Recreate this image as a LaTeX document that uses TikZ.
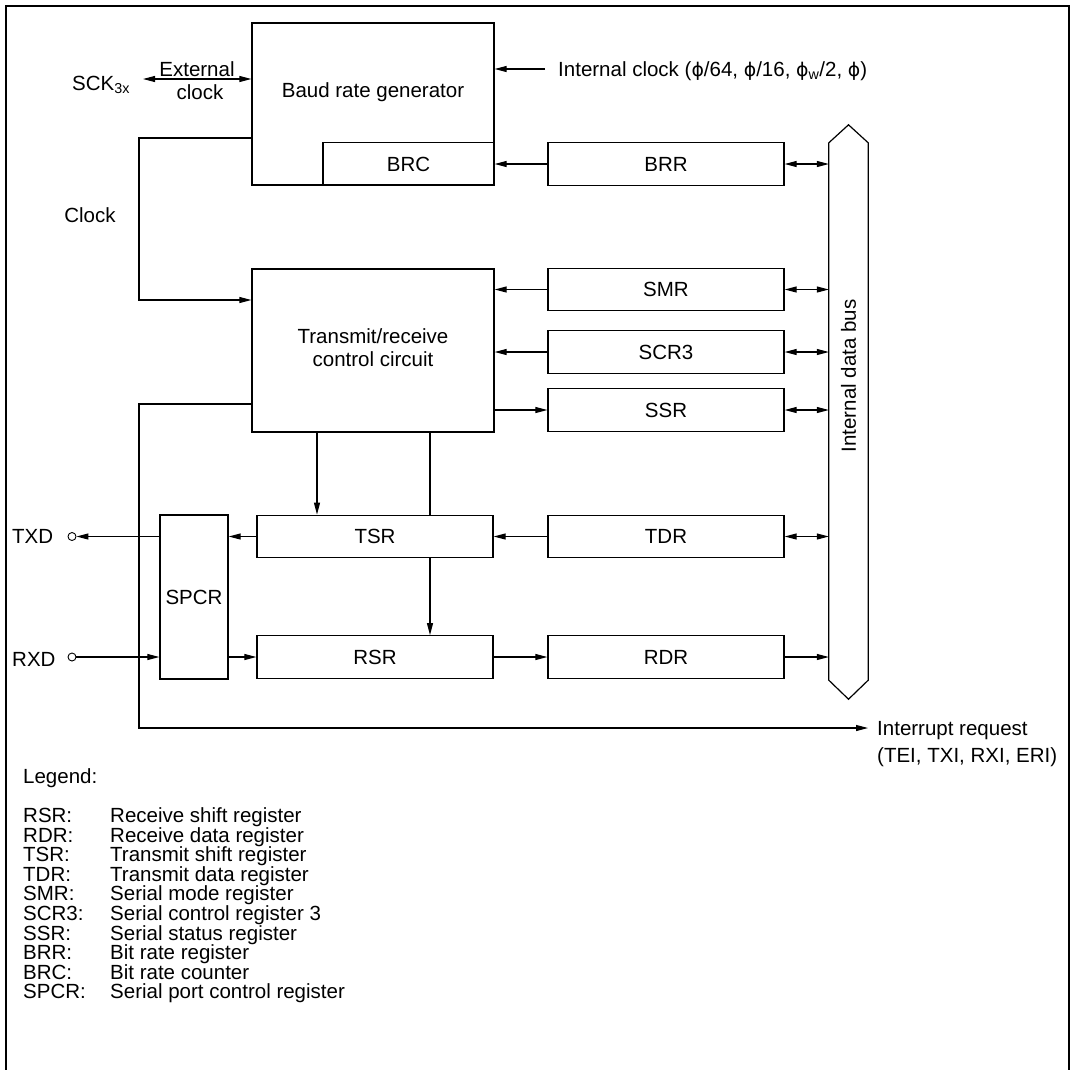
\documentclass[tikz,border=0pt]{standalone}
\usepackage{fontspec}
\setmainfont{Liberation Sans}
\newfontfamily\phifont[Scale=0.92]{DejaVu Sans}
\newcommand{\myphi}{{\phifont ϕ}}
\usetikzlibrary{arrows.meta}
\begin{document}
\begin{tikzpicture}[x=1pt,y=-1pt,font=\fontsize{20.5}{23}\selectfont,
  box/.style={draw,line width=1.3pt,inner sep=0pt,minimum height=42.5pt},
  reg/.style={box,minimum width=236pt},
  tip/.tip={Triangle[length=12pt,width=6pt]},
  conn/.style={line width=1.1pt,-tip},
  dconn/.style={line width=1.1pt,tip-tip},
  plain/.style={line width=1.1pt},
  txt/.style={inner sep=0pt},
  pin/.style={circle,draw,line width=0.9pt,minimum size=8pt,inner sep=0pt}]
\useasboundingbox (0,0) rectangle (1078,1069);
% frame
\draw[line width=2.4pt] (6,1080) -- (6,6) -- (1069,6) -- (1069,1080);

% blocks
\node[box,minimum width=242pt,minimum height=162pt] (baud) at (373,104) {};
\node[txt,anchor=base] (baudtxt) at (373,97) {Baud rate generator};
\node[box,minimum width=171pt] (brc) at (408.5,164) {BRC};
\node[reg] (brr) at (666,164) {BRR};
\node[box,minimum width=242pt,minimum height=163pt] (tr) at (373,350.5) {};
\node[txt,anchor=base] (trtxt1) at (373,343) {Transmit/receive};
\node[txt,anchor=base] (trtxt2) at (373,366) {control circuit};
\node[reg] (smr) at (666,289.5) {SMR};
\node[reg] (scr) at (666,352) {SCR3};
\node[reg] (ssr) at (666,410) {SSR};
\node[reg] (tdr) at (666,536.5) {TDR};
\node[reg] (rdr) at (666,657) {RDR};
\node[box,minimum width=236pt] (tsr) at (375,536.5) {TSR};
\node[box,minimum width=236pt] (rsr) at (375,657) {RSR};
\node[box,minimum width=68pt,minimum height=164pt] (spcr) at (194,597) {SPCR};

% bus
\node[inner sep=0pt,minimum width=39pt,minimum height=574pt] (bus) at (848.5,412) {};
\draw[line width=1.2pt] ([yshift=-18pt]bus.north west) -- (bus.north) -- ([yshift=-18pt]bus.north east)
  -- ([yshift=19pt]bus.south east) -- (bus.south) -- ([yshift=19pt]bus.south west) -- cycle;
\node[txt,rotate=90] (bustxt) at (848.5,376) {Internal data bus};

% pins and labels
\node[pin] (txdc) at (72,536.5) {};
\node[pin] (rxdc) at (72,657) {};
\node[txt,anchor=base west] (txd) at (12,543) {TXD};
\node[txt,anchor=base west] (rxd) at (12,666) {RXD};
\node[txt,anchor=base west] (sck) at (72,90) {SCK\textsubscript{3x}};
\node[txt,anchor=base] (ext1) at (197,76) {External};
\node[txt,anchor=base] (ext2) at (200,99) {clock};
\node[txt,anchor=base] (clk) at (90,222) {Clock};
\node[txt,anchor=base west] (intclk) at (558,76) {Internal clock (\myphi/64, \myphi/16, \myphi\textsubscript{w}/2, \myphi)};
\node[txt,anchor=base west] (irq1) at (877,735) {Interrupt request};
\node[txt,anchor=base west] (irq2) at (877,762) {(TEI, TXI, RXI, ERI)};

% coordinates
\coordinate (icstart) at (545,69);
\coordinate (sckend) at (143,79);
\coordinate (ck1) at (139,138);
\coordinate (ck2) at (139,300);
\coordinate (ir1) at (139,404);
\coordinate (ir2) at (139,728);
\coordinate (ir3) at (868,728);
\coordinate (a1) at (317,0);
\coordinate (a2) at (430,0);

% connectors
\draw[conn] (icstart) -- (icstart -| baud.east);
\draw[dconn] (sckend) -- (sckend -| baud.west);
\draw[conn] (ck1 -| baud.west) -- (ck1) -- (ck2) -- (ck2 -| tr.west);
\draw[conn] (ir1 -| tr.west) -- (ir1) -- (ir2) -- (ir3);
\draw[conn] (brr.west) -- (brc.east);
\draw[conn] (smr.west) -- (smr.west -| tr.east);
\draw[conn] (scr.west) -- (scr.west -| tr.east);
\draw[conn] (tr.east |- ssr) -- (ssr.west);
\draw[conn] (tr.south -| a1) -- (tsr.north -| a1);
\draw[plain] (tr.south -| a2) -- (tsr.north -| a2);
\draw[conn] (tsr.south -| a2) -- (rsr.north -| a2);
\draw[conn] (tdr.west) -- (tdr.west -| tsr.east);
\draw[conn] (tsr.west) -- (tsr.west -| spcr.east);
\draw[conn] (spcr.west |- txdc) -- (txdc.east);
\draw[conn] (rxdc.east) -- (rxdc -| spcr.west);
\draw[conn] (spcr.east |- rsr) -- (rsr.west);
\draw[conn] (rsr.east) -- (rdr.west);
\draw[conn] (rdr.east) -- (rdr.east -| bus.west);
\foreach \r in {brr,smr,scr,ssr,tdr}
  \draw[dconn] (\r.east) -- (\r.east -| bus.west);

% legend
\node[txt,anchor=base west] (leg) at (23,783) {Legend:};
\foreach \a/\b [count=\i from 0] in {RSR:/Receive shift register,RDR:/Receive data register,
  TSR:/Transmit shift register,TDR:/Transmit data register,SMR:/Serial mode register,
  SCR3:/Serial control register 3,SSR:/Serial status register,BRR:/Bit rate register,
  BRC:/Bit rate counter,SPCR:/Serial port control register}{
  \node[txt,anchor=base west] (la\i) at (23,822.5+19.6*\i) {\a};
  \node[txt,anchor=base west] (ld\i) at (110,822.5+19.6*\i) {\b};
}
\end{tikzpicture}
\end{document}
